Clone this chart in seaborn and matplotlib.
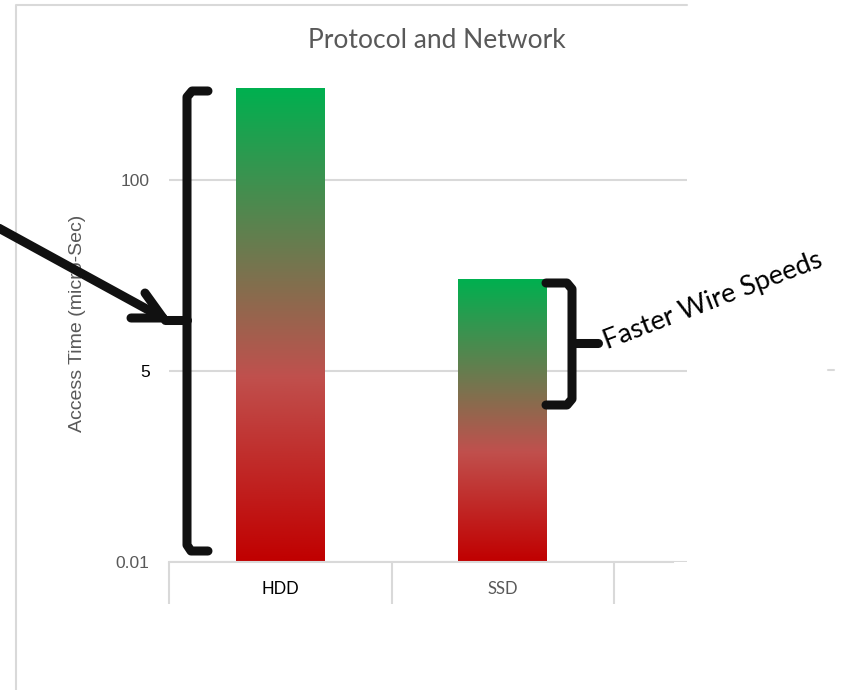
import numpy as np
import matplotlib
matplotlib.use("Agg")
import matplotlib.pyplot as plt
from matplotlib.colors import LinearSegmentedColormap
import seaborn as sns

# data (bar heights are in axis "slots": 0 -> 0.01, 1 -> 5, 2 -> 100)
categories = ["HDD", "SSD"]
access_time = [2.48, 1.48]
ytick_pos = [0, 1, 2]
ytick_labels = ["0.01", "5", "100"]

sns.set_theme(style="white")
plt.rcParams['font.family'] = ['Lato', 'DejaVu Sans']

fig = plt.figure(figsize=(8.41, 6.90), dpi=100)
W, H = 841, 690
ax = fig.add_axes([169 / W, 1 - 562 / H, (687 - 169) / W, 2.5 * 191 / H])

sns.barplot(x=categories, y=access_time, width=0.4, color="#c00000", ax=ax)

grad = LinearSegmentedColormap.from_list(
    "wire", [(0, "#c00000"), (0.39, "#c0504d"), (1, "#00b050")])
ramp = np.linspace(0, 1, 256).reshape(-1, 1)
for p in ax.patches:
    x0, y0, w, h = p.get_x(), p.get_y(), p.get_width(), p.get_height()
    p.set_facecolor("none")
    p.set_edgecolor("none")
    im = ax.imshow(ramp, extent=[x0, x0 + w, y0, y0 + h], origin="lower",
                   cmap=grad, aspect="auto", zorder=2)
    im.set_clip_path(p)

ax.set_xlim(-0.5, -0.5 + 518 / 222.5)
ax.set_ylim(0, 2.5)

# axes styling
for s in ["left", "right", "top"]:
    ax.spines[s].set_visible(False)
ax.spines["bottom"].set_color("#d9d9d9")
ax.spines["bottom"].set_linewidth(1.5)
ax.spines["bottom"].set_bounds(-0.5, -0.5 + 504 / 222.5)

ax.set_yticks(ytick_pos)
ax.set_yticklabels(ytick_labels, family="Liberation Sans", fontsize=12.5)
for lab, c in zip(ax.get_yticklabels(), ["#595959", "black", "#595959"]):
    lab.set_color(c)
ax.tick_params(axis="y", length=0, pad=14)
ax.yaxis.grid(True, color="#d9d9d9", linewidth=1.5)
ax.set_axisbelow(True)

ax.set_xticks([-0.5, 0.5, 1.5])
ax.set_xticklabels([])
ax.set_xticks([0, 1], minor=True)
ax.set_xticklabels(categories, minor=True, fontsize=12)
for lab, c in zip(ax.get_xticklabels(minor=True), ["black", "#595959"]):
    lab.set_color(c)
ax.tick_params(axis="x", which="major", length=30, width=1.5,
               color="#d9d9d9", direction="out", bottom=True)
ax.tick_params(axis="x", which="minor", length=0, pad=14)
ax.set_xlabel("")
ax.set_ylabel("")

fig.text(437 / W, 1 - 40 / H, "Protocol and Network", ha="center", va="center",
         fontsize=19, color="#595959")
fig.text(78 / W, 1 - 323 / H, "Access Time (micro-Sec)", rotation=90,
         ha="center", va="center", fontsize=14, color="#595959",
         family="Liberation Sans")

# overlay in pixel coords for frame, brackets, arrow and note
ov = fig.add_axes([0, 0, 1, 1], zorder=5)
ov.set_xlim(0, W)
ov.set_ylim(H, 0)
ov.axis("off")
ov.patch.set_alpha(0)

ov.plot([16, 16, 687], [H, 5, 5], color="#d9d9d9", lw=1.5)
ov.plot([828, 834], [370, 370], color="#d9d9d9", lw=1.5)

kw = dict(color="#111111", lw=6.5, solid_joinstyle="round", solid_capstyle="round")
ov.plot([208, 192, 187, 187, 191, 208], [91, 91, 97, 545, 551, 551], **kw)
ov.plot([187, 165], [320, 320], **kw)
ov.plot([-5, 163], [226, 318], **kw)
ov.plot([145, 163, 131], [293, 318, 318], **kw)

ov.plot([546, 567, 572, 572, 567, 546], [283, 283, 289, 399, 405, 405], **kw)
ov.plot([572, 598], [343, 343], **kw)

ov.text(607, 349, "Faster Wire Speeds", rotation=21, rotation_mode="anchor",
        ha="left", va="baseline", fontsize=19.5, color="black")

fig.savefig("out.png", dpi=100)
